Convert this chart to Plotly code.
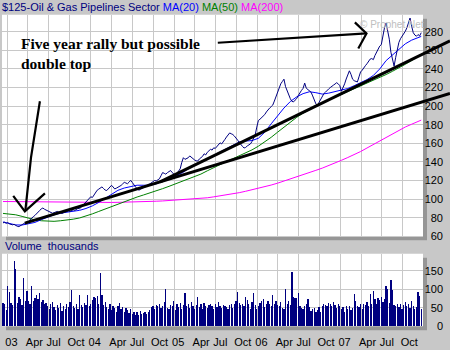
import pandas as pd
import plotly.graph_objects as go

# ---------------- data ----------------
START = "2002-12-13"  # first weekly bar

price = [
    74.5, 75.2, 74.0, 74.8, 73.5, 72.8, 72.4, 73.0, 71.5, 70.8, 70.5, 71.6, 72.8,
    73.6, 74.5, 75.8, 76.2, 78.0, 80.1, 81.2, 82.5, 84.6, 86.3, 87.8, 89.6, 90.5,
    89.2, 88.4, 87.6, 86.9, 85.8, 84.9, 85.5, 86.2, 86.8, 86.0, 85.1, 84.6, 85.4,
    86.0, 86.7, 87.3, 86.8, 88.1, 88.6, 87.9, 89.2, 90.1, 89.6, 91.5, 93.2, 95.3,
    97.4, 99.8, 100.9, 102.6, 101.8, 104.5, 107.2, 109.6, 110.8, 112.4, 113.2, 111.5, 109.8,
    109.3, 111.6, 113.4, 114.9, 113.1, 111.0, 111.8, 112.6, 113.2, 114.8, 116.5, 118.1, 117.4,
    116.6, 118.3, 120.2, 118.0, 115.0, 113.2, 111.4, 109.6, 110.5, 111.8, 112.4, 113.1, 114.6,
    115.8, 116.4, 118.0, 119.2, 120.1, 119.6, 121.0, 121.9, 125.2, 128.6, 127.8, 126.9, 128.5,
    130.0, 130.8, 128.6, 126.4, 125.3, 127.8, 130.2, 132.6, 139.5, 144.6, 142.8, 143.3, 144.5,
    146.5, 145.0, 143.1, 142.2, 141.3, 141.0, 143.2, 144.5, 146.0, 148.8, 147.6, 150.4, 152.1,
    153.6, 152.8, 155.2, 154.6, 157.0, 158.8, 160.6, 159.4, 162.5, 164.2, 166.8, 169.0, 171.2,
    170.3, 169.5, 167.8, 166.1, 163.5, 161.0, 158.2, 156.8, 155.0, 155.6, 157.2, 158.3, 159.4,
    162.0, 165.5, 169.2, 177.5, 184.6, 186.0, 187.5, 189.2, 191.0, 193.8, 196.2, 197.9, 199.5,
    201.2, 205.5, 210.0, 215.4, 219.8, 224.0, 226.5, 229.0, 221.0, 216.0, 211.5, 208.0, 205.2,
    204.6, 206.5, 208.2, 211.5, 215.2, 217.0, 219.2, 224.8, 219.3, 217.5, 216.0, 215.0, 211.0,
    206.0, 202.5, 201.0, 204.5, 207.8, 211.6, 213.4, 215.0, 217.2, 218.5, 220.0, 221.8, 222.6,
    223.8, 225.2, 224.0, 222.0, 216.0, 219.5, 224.0, 229.2, 233.5, 238.0, 234.2, 229.0, 227.4,
    226.8, 226.0, 231.5, 236.8, 238.6, 240.5, 243.5, 245.6, 248.2, 250.6, 251.2, 250.0, 254.5,
    258.0, 261.0, 264.6, 266.2, 276.0, 284.5, 289.5, 280.0, 272.0, 258.0, 250.2, 243.0, 252.5,
    262.6, 268.5, 272.5, 275.0, 278.2, 280.5, 284.2, 288.6, 294.8, 286.0, 279.0, 276.5, 275.2,
    277.0, 275.5, 279.0,
]

volume = [
    63, 62, 45, 109, 94, 63, 58, 176, 156, 63, 80, 75, 58,
    130, 70, 95, 70, 62, 109, 68, 78, 85, 74, 90, 66, 72,
    60, 64, 55, 48, 62, 66, 52, 44, 58, 50, 63, 42, 55,
    48, 60, 52, 66, 98, 56, 50, 62, 48, 85, 58, 52, 64,
    58, 85, 55, 62, 72, 80, 78, 82, 60, 145, 84, 58, 66,
    52, 48, 62, 44, 56, 50, 40, 54, 63, 46, 52, 38, 50,
    44, 36, 48, 35, 40, 32, 38, 30, 42, 34, 36, 40, 33,
    38, 45, 52, 56, 48, 58, 54, 62, 50, 56, 66, 100, 50,
    46, 58, 54, 68, 44, 60, 52, 64, 48, 58, 90, 55, 62,
    50, 66, 54, 48, 58, 80, 52, 60, 46, 64, 56, 50, 58,
    62, 54, 48, 60, 52, 66, 56, 50, 58, 55, 52, 48, 57,
    60, 50, 62, 68, 92, 64, 58, 62, 55, 80, 72, 60, 48,
    66, 90, 58, 46, 55, 64, 70, 74, 52, 62, 68, 60, 56,
    85, 62, 70, 58, 54, 66, 50, 48, 100, 62, 70, 58, 146,
    80, 76, 78, 90, 56, 50, 46, 54, 60, 75, 52, 42, 48,
    50, 38, 44, 52, 40, 56, 62, 58, 54, 64, 60, 56, 66,
    58, 50, 62, 54, 46, 52, 40, 54, 48, 56, 44, 50, 87,
    70, 56, 52, 60, 48, 62, 58, 66, 54, 88, 60, 95, 74,
    62, 78, 72, 80, 66, 74, 110, 100, 64, 126, 98, 58, 54,
    60, 52, 62, 48, 58, 66, 54, 60, 50, 70, 56, 48, 52,
    92, 82, 46,
]

# moving averages read every 4th week (plus the last week)
ma20 = [
    75.5, 73.7, 72.3, 72.2, 73.4, 75.0, 78.0, 81.0, 83.2, 85.0,
    86.0, 87.0, 88.0, 90.0, 92.8, 96.5, 101.0, 105.5, 109.5, 112.0,
    113.8, 115.0, 115.0, 115.0, 116.5, 119.0, 122.0, 125.0, 128.0, 132.5,
    136.5, 140.0, 143.5, 147.0, 151.0, 154.5, 158.0, 161.5, 162.5, 163.0,
    165.5, 172.0, 181.0, 190.0, 198.0, 205.0, 210.0, 213.5, 215.5, 214.5,
    213.0, 214.0, 215.5, 217.0, 219.0, 222.0, 225.0, 228.5, 233.0, 240.0,
    249.0, 255.0, 261.0, 267.0, 271.0, 273.5, 275.0,
]
ma50 = [
    84.7, 84.2, 83.2, 81.5, 79.5, 77.8, 76.8, 76.2, 76.2, 76.8,
    77.5, 78.5, 79.8, 81.8, 84.2, 86.8, 89.5, 92.3, 95.0, 97.5,
    100.0, 102.3, 104.5, 106.5, 108.8, 111.3, 113.8, 116.3, 118.8, 121.5,
    124.3, 127.0, 130.5, 134.0, 137.5, 140.5, 143.5, 146.5, 149.5, 153.0,
    157.0, 161.5, 166.5, 172.0, 177.5, 183.0, 188.0, 192.5, 196.5, 200.0,
    203.5, 206.5, 209.5, 212.5, 215.5, 218.5, 221.5, 224.5, 227.5, 230.5,
    234.0, 237.5, 241.0, 245.0, 249.0, 253.5, 256.0,
]
ma200 = [
    97.5, 97.4, 97.3, 97.2, 97.1, 97.0, 96.9, 96.8, 96.7, 96.6,
    96.5, 96.5, 96.4, 96.4, 96.4, 96.4, 96.5, 96.5, 96.6, 96.7,
    96.8, 97.0, 97.2, 97.5, 97.8, 98.1, 98.5, 98.9, 99.4, 99.9,
    100.2, 100.6, 101.5, 102.5, 103.5, 104.5, 105.6, 107.0, 108.5, 110.0,
    111.5, 113.3, 115.2, 117.2, 119.4, 121.6, 124.0, 126.3, 128.6, 131.0,
    133.4, 136.0, 138.8, 141.8, 144.8, 147.9, 151.2, 155.0, 158.8, 162.6,
    166.6, 170.6, 174.5, 177.6, 180.6, 183.6, 185.0,
]

tick_dates = [
    "2003-01-01", "2003-04-01", "2003-07-01", "2003-10-01",
    "2004-01-01", "2004-04-01", "2004-07-01", "2004-10-01",
    "2005-01-01", "2005-04-01", "2005-07-01", "2005-10-01",
    "2006-01-01", "2006-04-01", "2006-07-01", "2006-10-01",
    "2007-01-01", "2007-04-01", "2007-07-01", "2007-10-01",
]
tick_labels = ["03", "Apr", "Jul", "Oct", "04", "Apr", "Jul", "Oct",
               "05", "Apr", "Jul", "Oct", "06", "Apr", "Jul", "Oct",
               "07", "Apr", "Jul", "Oct"]
price_ticks = [60, 80, 100, 120, 140, 160, 180, 200, 220, 240, 260, 280]
volume_ticks = [0, 50, 100, 150]

# hand-drawn annotation strokes (date, value)
trend_lower_x = ["2003-03-19", "2008-04-25"]
trend_lower_y = [74.3, 213.7]
trend_upper_x = ["2004-11-01", "2008-04-25"]
trend_upper_y = [118.6, 270.3]
arrow_left_x = ["2003-05-24", "2003-05-01", "2003-04-15", "2003-03-21"]
arrow_left_y = [205.3, 172.0, 145.0, 87.5]
arrow_left_head_x = ["2003-01-27", "2003-03-19", "2003-06-15"]
arrow_left_head_y = [103.5, 86.9, 106.3]
arrow_top_x = ["2005-07-12", "2007-04-25"]
arrow_top_y = [268.2, 278.2]
arrow_top_head_x = ["2007-03-05", "2007-04-25", "2007-03-20"]
arrow_top_head_y = [290.1, 278.2, 262.0]

# ---------------- layout geometry ----------------
W, H = 450, 350
def px(x): return x / W
def py(y): return 1 - y / H

ORIGIN = pd.Timestamp("2003-01-01")
ORIGIN_PX = 7.3
PX_PER_DAY = 83.3 / 365.25
def px_to_date(x):
    return str(ORIGIN + pd.Timedelta(days=(x - ORIGIN_PX) / PX_PER_DAY))

PLOT_L, PLOT_R = 2, 423
MAIN_T, MAIN_B = 15, 240.5
VOL_T, VOL_B = 258.3, 332
YMIN, YMAX = 60, 298.3
VMAX = 196
ppu = (MAIN_B - MAIN_T) / (YMAX - YMIN)
def v_at(ypix): return YMIN + (MAIN_B - ypix) / ppu

dates = pd.date_range(START, periods=len(price), freq="7D")
vol_dates = pd.date_range(START, periods=len(volume), freq="7D")
ma_idx = list(range(0, len(price), 4))
if ma_idx[-1] != len(price) - 1:
    ma_idx.append(len(price) - 1)
ma_dates = dates[ma_idx]

NAVY = "#000080"
GRID = "#C8C8C8"
BG = "#C8C8C8"
SHADOW = "#969696"
FONT = "Liberation Sans, Arial, sans-serif"

fig = go.Figure()

fig.add_trace(go.Scatter(x=ma_dates, y=ma200, mode="lines",
                         line=dict(color="#FF00FF", width=1), xaxis="x", yaxis="y"))
fig.add_trace(go.Scatter(x=ma_dates, y=ma50, mode="lines",
                         line=dict(color="#008000", width=1), xaxis="x", yaxis="y"))
fig.add_trace(go.Scatter(x=ma_dates, y=ma20, mode="lines",
                         line=dict(color="#0000FF", width=1), xaxis="x", yaxis="y"))
fig.add_trace(go.Scatter(x=dates, y=price, mode="lines",
                         line=dict(color=NAVY, width=1), xaxis="x", yaxis="y"))

fig.add_trace(go.Bar(x=vol_dates, y=volume, xaxis="x2", yaxis="y2",
                     marker=dict(color=NAVY, line=dict(width=0)),
                     width=1.2 * 86400000))

# overlay strokes (full-figure axes so they can run past the plot edge)
for xs, ys, w in [(trend_lower_x, trend_lower_y, 3), (trend_upper_x, trend_upper_y, 3),
                  (arrow_left_x, arrow_left_y, 2.2), (arrow_left_head_x, arrow_left_head_y, 2.2),
                  (arrow_top_x, arrow_top_y, 2.2), (arrow_top_head_x, arrow_top_head_y, 2.2)]:
    fig.add_trace(go.Scatter(x=xs, y=ys, mode="lines", line=dict(color="black", width=w),
                             xaxis="x3", yaxis="y3"))

axis_font = dict(family=FONT, size=11, color="black")

fig.update_layout(
    width=W, height=H, margin=dict(l=0, r=0, t=0, b=0),
    paper_bgcolor=BG, plot_bgcolor="rgba(0,0,0,0)",
    showlegend=False, bargap=0,
    xaxis=dict(type="date", domain=[px(PLOT_L), px(PLOT_R)],
               range=[px_to_date(PLOT_L), px_to_date(PLOT_R)],
               tickvals=tick_dates, showticklabels=False, ticks="",
               showgrid=True, gridcolor=GRID, gridwidth=1, zeroline=False,
               showline=False, anchor="y"),
    xaxis2=dict(type="date", domain=[px(PLOT_L), px(PLOT_R)], matches="x",
                tickvals=tick_dates, ticktext=tick_labels, ticks="", tickangle=0,
                ticklabelposition="outside right", ticklabelstandoff=8,
                ticklabelshift=-2, tickfont=axis_font,
                showgrid=True, gridcolor=GRID, gridwidth=1, zeroline=False,
                showline=False, anchor="y2"),
    yaxis=dict(domain=[py(MAIN_B), py(MAIN_T)], range=[YMIN, YMAX],
               tickvals=price_ticks, ticks="", side="right", anchor="free",
               position=px(446), ticklabelposition="inside", ticklabeloverflow="allow",
               tickfont=axis_font, showgrid=True, gridcolor=GRID, gridwidth=1,
               zeroline=False, showline=False),
    yaxis2=dict(domain=[py(VOL_B), py(VOL_T)], range=[0, VMAX],
                tickvals=volume_ticks, ticks="", side="right", anchor="free",
                position=px(446), ticklabelposition="inside", ticklabeloverflow="allow",
                tickfont=axis_font, showgrid=True, gridcolor=GRID, gridwidth=1,
                zeroline=False, showline=False),
    xaxis3=dict(type="date", domain=[0, 1], range=[px_to_date(0), px_to_date(W)],
                visible=False, anchor="y3"),
    yaxis3=dict(domain=[0, 1], range=[v_at(H), v_at(0)], visible=False, anchor="x3"),
)

shapes = [
    dict(type="rect", xref="paper", yref="paper", layer="below",
         x0=px(PLOT_L + 4), x1=px(PLOT_R + 4), y0=py(MAIN_B + 4), y1=py(MAIN_T + 4),
         fillcolor=SHADOW, line=dict(width=0)),
    dict(type="rect", xref="paper", yref="paper", layer="below",
         x0=px(PLOT_L), x1=px(PLOT_R), y0=py(MAIN_B), y1=py(MAIN_T),
         fillcolor="white", line=dict(width=0)),
    dict(type="rect", xref="paper", yref="paper", layer="below",
         x0=px(PLOT_L + 4), x1=px(PLOT_R + 4), y0=py(VOL_B + 4), y1=py(VOL_T + 4),
         fillcolor=SHADOW, line=dict(width=0)),
    dict(type="rect", xref="paper", yref="paper", layer="below",
         x0=px(PLOT_L), x1=px(PLOT_R), y0=py(VOL_B), y1=py(VOL_T),
         fillcolor="white", line=dict(width=0)),
]
fig.update_layout(shapes=shapes)

title_html = ("<span style='color:#000080'>$125-Oil &amp; Gas Pipelines Sector</span> "
              "<span style='color:#0000FF'>MA(20)</span> "
              "<span style='color:#008000'>MA(50)</span> "
              "<span style='color:#FF00FF'>MA(200)</span>")
annotations = [
    dict(text=title_html, xref="paper", yref="paper", x=px(0), y=py(7),
         xanchor="left", yanchor="middle", showarrow=False,
         font=dict(family=FONT, size=11)),
    dict(text="Volume\u00a0\u00a0thousands", xref="paper", yref="paper", x=px(3), y=py(250.5),
         xanchor="left", yanchor="middle", showarrow=False,
         font=dict(family=FONT, size=11, color=NAVY)),
    dict(text="\u00a9 Prophet.Net", xref="paper", yref="paper", x=px(358), y=py(25),
         xanchor="left", yanchor="middle", showarrow=False,
         font=dict(family=FONT, size=10, color="#C0C0C0")),
    dict(text="<b>Five year rally but possible<br>double top</b>", xref="paper", yref="paper",
         x=px(19), y=py(34), xanchor="left", yanchor="top", align="left", showarrow=False,
         font=dict(family="Liberation Serif, Times New Roman, serif", size=15.5, color="black")),
]
fig.update_layout(annotations=annotations)

fig.write_html("out.html")
